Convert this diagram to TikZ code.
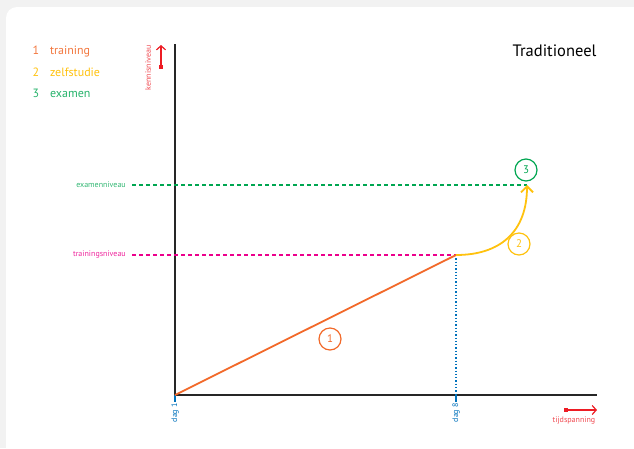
\documentclass[tikz,border=0pt]{standalone}
\usepackage{fontspec}
\setmainfont{PT Sans}
\usetikzlibrary{arrows.meta,positioning}
\definecolor{TRoranje}{RGB}{242,105,42}
\definecolor{TRgeel}{RGB}{255,194,14}
\definecolor{TRgroen}{RGB}{0,166,81}
\definecolor{TRroze}{RGB}{236,0,140}
\definecolor{TRblauw}{RGB}{0,114,188}
\definecolor{TRrood}{RGB}{237,28,36}
\definecolor{TRgrijs}{RGB}{242,242,242}

\begin{document}
\begin{tikzpicture}[x=1pt, y=-1pt,
			num/.style={circle, draw, line width=1.2pt, minimum size=22pt,
				inner sep=0pt, font=\fontsize{11}{11}\selectfont},
			leg/.style={anchor=west, font=\fontsize{12}{14}\selectfont},
			lvl/.style={anchor=east, inner sep=1pt, font=\fontsize{8}{9}\selectfont},
			dag/.style={rotate=90, anchor=east, inner sep=1pt, TRblauw,
				font=\fontsize{8}{9}\selectfont},
			as/.style={line width=1.8pt, black!85},
			dim/.style={TRrood, line width=1.2pt,
				{Square[length=4pt,width=4pt]}-{Straight Barb[length=4pt,width=9pt]}},
			lijn/.style={line width=1.8pt, dash pattern=on 4pt off 3pt}]
			
			% Background
			\useasboundingbox (0,0) rectangle (634,448);
			\fill[TRgrijs] (0,0) rectangle (634,448);
			\fill[white, rounded corners=11pt] (6,7) rectangle (660,480);
			
			% Legend
			\node[leg, TRoranje!90] (l1) at (29,51) {1\hspace{11pt}training};
			\node[leg, TRgeel]      (l2) at (29,72) {2\hspace{11pt}zelfstudie};
			\node[leg, TRgroen!85]  (l3) at (29,93) {3\hspace{11pt}examen};
			\node[anchor=east, font=\fontsize{16.5}{18}\selectfont] (titel) at (600,51) {Traditioneel};
			
			% Axes
			\coordinate (o)    at (175,395);
			\coordinate (ytop) at (175,44);
			\coordinate (xend) at (597,395);
			\coordinate (tr)   at (456,255);
			\coordinate (ex)   at (527,185);
			\draw[as] (o) -- (ytop);
			\draw[as] (o) -- (xend);
			
			% Axis labels
			\coordinate (ka) at (161,69);
			\coordinate (kb) at (161,45);
			\draw[dim] (ka) -- (kb);
			\node[rotate=90, TRrood!80, font=\fontsize{8}{9}\selectfont] (kennis) at (148,68) {kennisniveau};
			\coordinate (ta) at (564,410);
			\coordinate (tb) at (597,410);
			\draw[dim] (ta) -- (tb);
			\node[TRrood!80, font=\fontsize{8}{9}\selectfont] (tijd) at (574,421) {tijdspanning};
			
			% Levels
			\node[lvl, TRgroen!80] (exl) at (127,185) {examenniveau};
			\node[lvl, TRroze!85]  (trl) at (127,255) {trainingsniveau};
			\draw[lijn, TRgroen] (exl.east) ++(5,0) -- (ex);
			\draw[lijn, TRroze] (trl.east) ++(5,0) -- (tr);
			
			% Days
			\coordinate (d1) at (175,402);
			\coordinate (d8) at (456,402);
			\draw[TRblauw, line width=1.3pt, dotted] (tr) -- (456,395);
			\draw[TRblauw, line width=1.3pt] (o) -- (d1);
			\draw[TRblauw, line width=1.3pt] (456,395) -- (d8);
			\node[dag] (dag1) at (d1) {dag 1};
			\node[dag] (dag8) at (d8) {dag 8};
			
			% Phases
			\draw[TRoranje, line width=1.8pt] (o) -- (tr);
			\draw[TRgeel, line width=1.8pt, -{Straight Barb[length=6pt,width=12pt]}]
				(tr) .. controls (500,255) and (527,232) .. (ex);
			\node[num, TRoranje] (c1) at (330,339) {1};
			\node[num, TRgeel]   (c2) at (519,244) {2};
			\node[num, TRgroen]  (c3) at (526,170) {3};
		\end{tikzpicture}
\end{document}
